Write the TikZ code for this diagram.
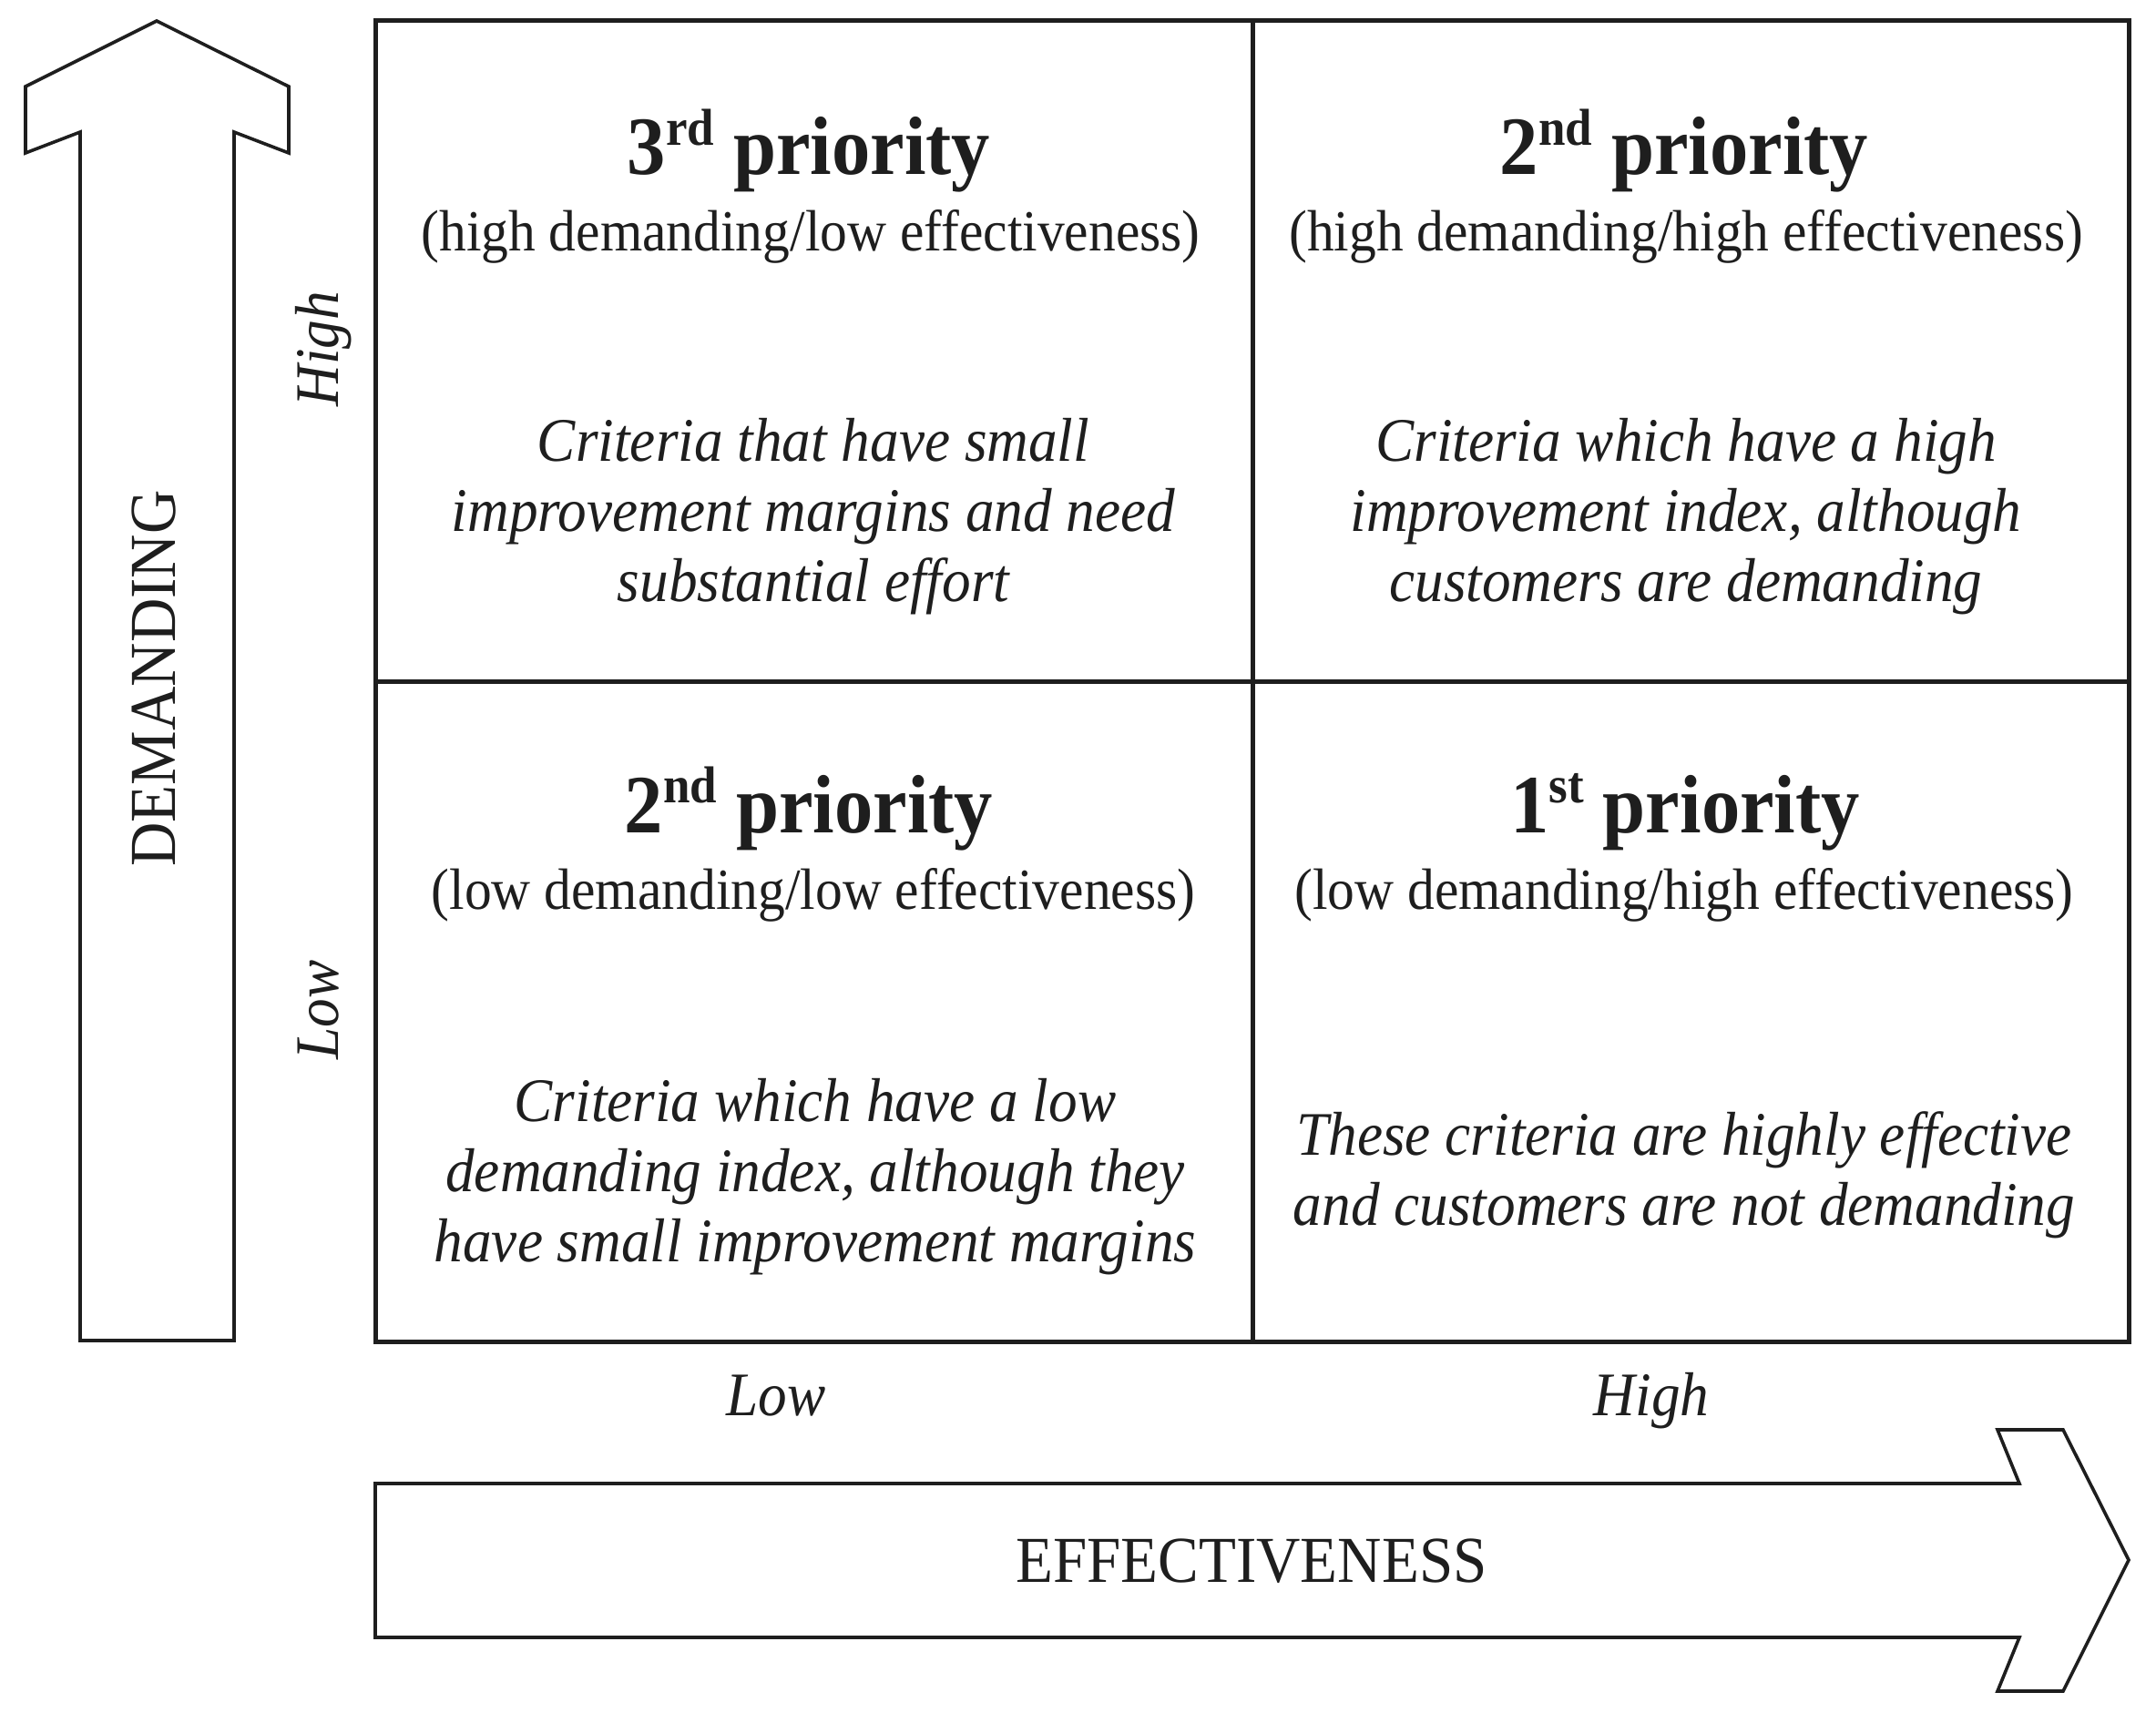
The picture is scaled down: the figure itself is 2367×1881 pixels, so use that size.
\documentclass[tikz,border=0pt]{standalone}
\usepackage{fontspec}
\setmainfont{Liberation Serif}[FakeStretch=0.93]
\definecolor{ink}{HTML}{1E1E1E}
\newcommand{\supx}[1]{\raisebox{0.36em}{\fontsize{57}{57}\selectfont #1}}
\tikzset{
  gridline/.style={draw=ink, line width=5pt},
  arrowshape/.style={draw=ink, line width=3.6pt, line join=miter, fill=white},
  titletext/.style={anchor=base, text=ink, inner sep=0pt, font=\fontsize{91}{94}\selectfont\bfseries},
  subtext/.style={anchor=base, text=ink, inner sep=0pt, font=\fontsize{64}{70}\selectfont},
  bodytext/.style={anchor=base, text=ink, inner sep=0pt, align=center, font=\fontsize{68}{77}\selectfont\itshape},
  levellabel/.style={anchor=base, text=ink, inner sep=0pt, font=\fontsize{68}{72}\selectfont\itshape},
  axislabel/.style={anchor=base, text=ink, inner sep=0pt, font=\fontsize{72}{76}\selectfont},
}
\begin{document}
\begin{tikzpicture}[x=1pt, y=-1pt]
\useasboundingbox[fill=white] (0,0) rectangle (2367,1881);

% vertical arrow (DEMANDING)
\draw[arrowshape] (88,1472) -- (88,145) -- (28,168) -- (28,95) -- (172,23) -- (317,95) -- (317,168) -- (257,145) -- (257,1472) -- cycle;
% horizontal arrow (EFFECTIVENESS)
\draw[arrowshape] (412,1629) -- (2217,1629) -- (2193,1570) -- (2265,1570) -- (2337,1713) -- (2265,1857) -- (2193,1857) -- (2217,1798) -- (412,1798) -- cycle;

% grid
\coordinate (gtl) at (412,23);
\coordinate (gbr) at (2337,1473);
\coordinate (mtop) at (1375,23);
\coordinate (mbot) at (1375,1473);
\coordinate (mleft) at (412,748);
\coordinate (mright) at (2337,748);
\draw[gridline] (gtl) rectangle (gbr);
\draw[gridline] (mtop) -- (mbot);
\draw[gridline] (mleft) -- (mright);

% axis labels
\node[axislabel, rotate=90] (demand) at (192,745) {DEMANDING};
\node[axislabel] (effect) at (1374,1737) {EFFECTIVENESS};
\node[levellabel, rotate=90] (dhigh) at (371,383) {High};
\node[levellabel, rotate=90] (dlow) at (371,1109) {Low};
\node[levellabel] (elow) at (852,1554) {Low};
\node[levellabel] (ehigh) at (1813,1554) {High};

% top-left cell
\node[titletext] (tlt) at (888,192) {3\supx{rd} priority};
\node[subtext] (tls) at (890,276) {(high demanding/low effectiveness)};
\node[bodytext] (tlb) at (893,660) {Criteria that have small\\improvement margins and need\\substantial effort};

% top-right cell
\node[titletext] (trt) at (1849,192) {2\supx{nd} priority};
\node[subtext] (trs) at (1851,276) {(high demanding/high effectiveness)};
\node[bodytext] (trb) at (1851,660) {Criteria which have a high\\improvement index, although\\customers are demanding};

% bottom-left cell
\node[titletext] (blt) at (888,914) {2\supx{nd} priority};
\node[subtext] (bls) at (893,998) {(low demanding/low effectiveness)};
\node[bodytext] (blb) at (895,1385) {Criteria which have a low\\demanding index, although they\\have small improvement margins};

% bottom-right cell
\node[titletext] (brt) at (1850,914) {1\supx{st} priority};
\node[subtext] (brs) at (1849,998) {(low demanding/high effectiveness)};
\node[bodytext] (brb) at (1849,1345) {These criteria are highly effective\\and customers are not demanding};
\end{tikzpicture}
\end{document}
